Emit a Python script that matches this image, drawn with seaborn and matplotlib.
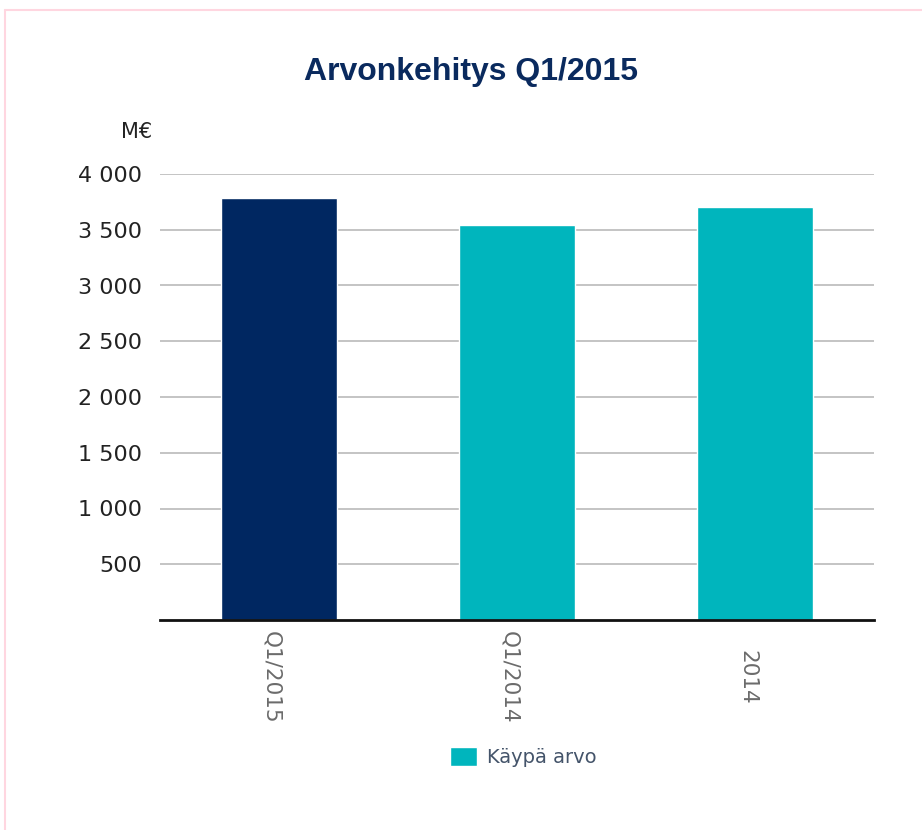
import matplotlib
matplotlib.use("Agg")
import matplotlib.pyplot as plt
import matplotlib.transforms as mtransforms
from matplotlib.patches import Patch
from matplotlib.lines import Line2D
import seaborn as sns
import pandas as pd

categories = ["Q1/2015", "Q1/2014", "2014"]
values = [3785, 3543, 3704]
bar_colors = ["#002761", "#00B5BD"]
yticks = [500, 1000, 1500, 2000, 2500, 3000, 3500, 4000]
ytick_labels = ["500", "1 000", "1 500", "2 000", "2 500", "3 000", "3 500", "4 000"]
title = "Arvonkehitys Q1/2015"
unit = "M€"
legend_label = "Käypä arvo"

sns.set_theme(style="white")
plt.rcParams["font.family"] = ["DejaVu Sans"]

df = pd.DataFrame({"cat": categories, "val": values})
palette = {categories[0]: bar_colors[0], categories[1]: bar_colors[1], categories[2]: bar_colors[1]}

fig = plt.figure(figsize=(9.22, 8.3), dpi=100)
ax = fig.add_axes([160/922, 1-620/830, (874-160)/922, (620-174)/830])

sns.barplot(data=df, x="cat", y="val", hue="cat", palette=palette, legend=False,
            width=0.49, ax=ax, saturation=1, zorder=3)

ax.set_xlim(-0.5, 2.5)
ax.set_ylim(0, 4000)
ax.set_yticks(yticks)
ax.set_yticklabels(ytick_labels, fontsize=16, color="#222222")
ax.tick_params(axis="y", length=0, pad=13)
ax.tick_params(axis="x", length=0, pad=41)
shift = mtransforms.ScaledTranslation(-8/100, 0, fig.dpi_scale_trans)
for lab in ax.get_xticklabels():
    lab.set_rotation(270)
    lab.set_fontsize(15.5)
    lab.set_color("#6b6b6b")
    lab.set_va("center")
    lab.set_ha("center")
    lab.set_transform(lab.get_transform() + shift)
ax.set_xlabel("")
ax.set_ylabel("")
ax.yaxis.grid(True, color="#c4c4c4", linewidth=1.4, zorder=0)
ax.set_axisbelow(True)
for s in ["top", "right", "left"]:
    ax.spines[s].set_visible(False)
ax.spines["bottom"].set_color("#111111")
ax.spines["bottom"].set_linewidth(2)
ax.spines["bottom"].set_zorder(4)

fig.text(471/922, 1-72/830, title, ha="center", va="center", fontsize=23,
         fontweight="bold", color="#0A2A5E", family=["Liberation Sans", "DejaVu Sans"])
fig.text(137/922, 1-132/830, unit, ha="center", va="center", fontsize=15, color="#222222")

leg = fig.legend(handles=[Patch(facecolor=bar_colors[1], label=legend_label)],
                 loc="center", bbox_to_anchor=(523/922, 1-757/830), frameon=False,
                 fontsize=14, handlelength=1.4, handleheight=1.1, handletextpad=0.5)
for t in leg.get_texts():
    t.set_color("#44546A")

pink = "#FFD6E0"
fig.add_artist(Line2D([5/922, 1.0], [1-10/830, 1-10/830], color=pink, linewidth=1.5, transform=fig.transFigure))
fig.add_artist(Line2D([5/922, 5/922], [0, 1-10/830], color=pink, linewidth=1.5, transform=fig.transFigure))

fig.savefig("out.png", dpi=100)
